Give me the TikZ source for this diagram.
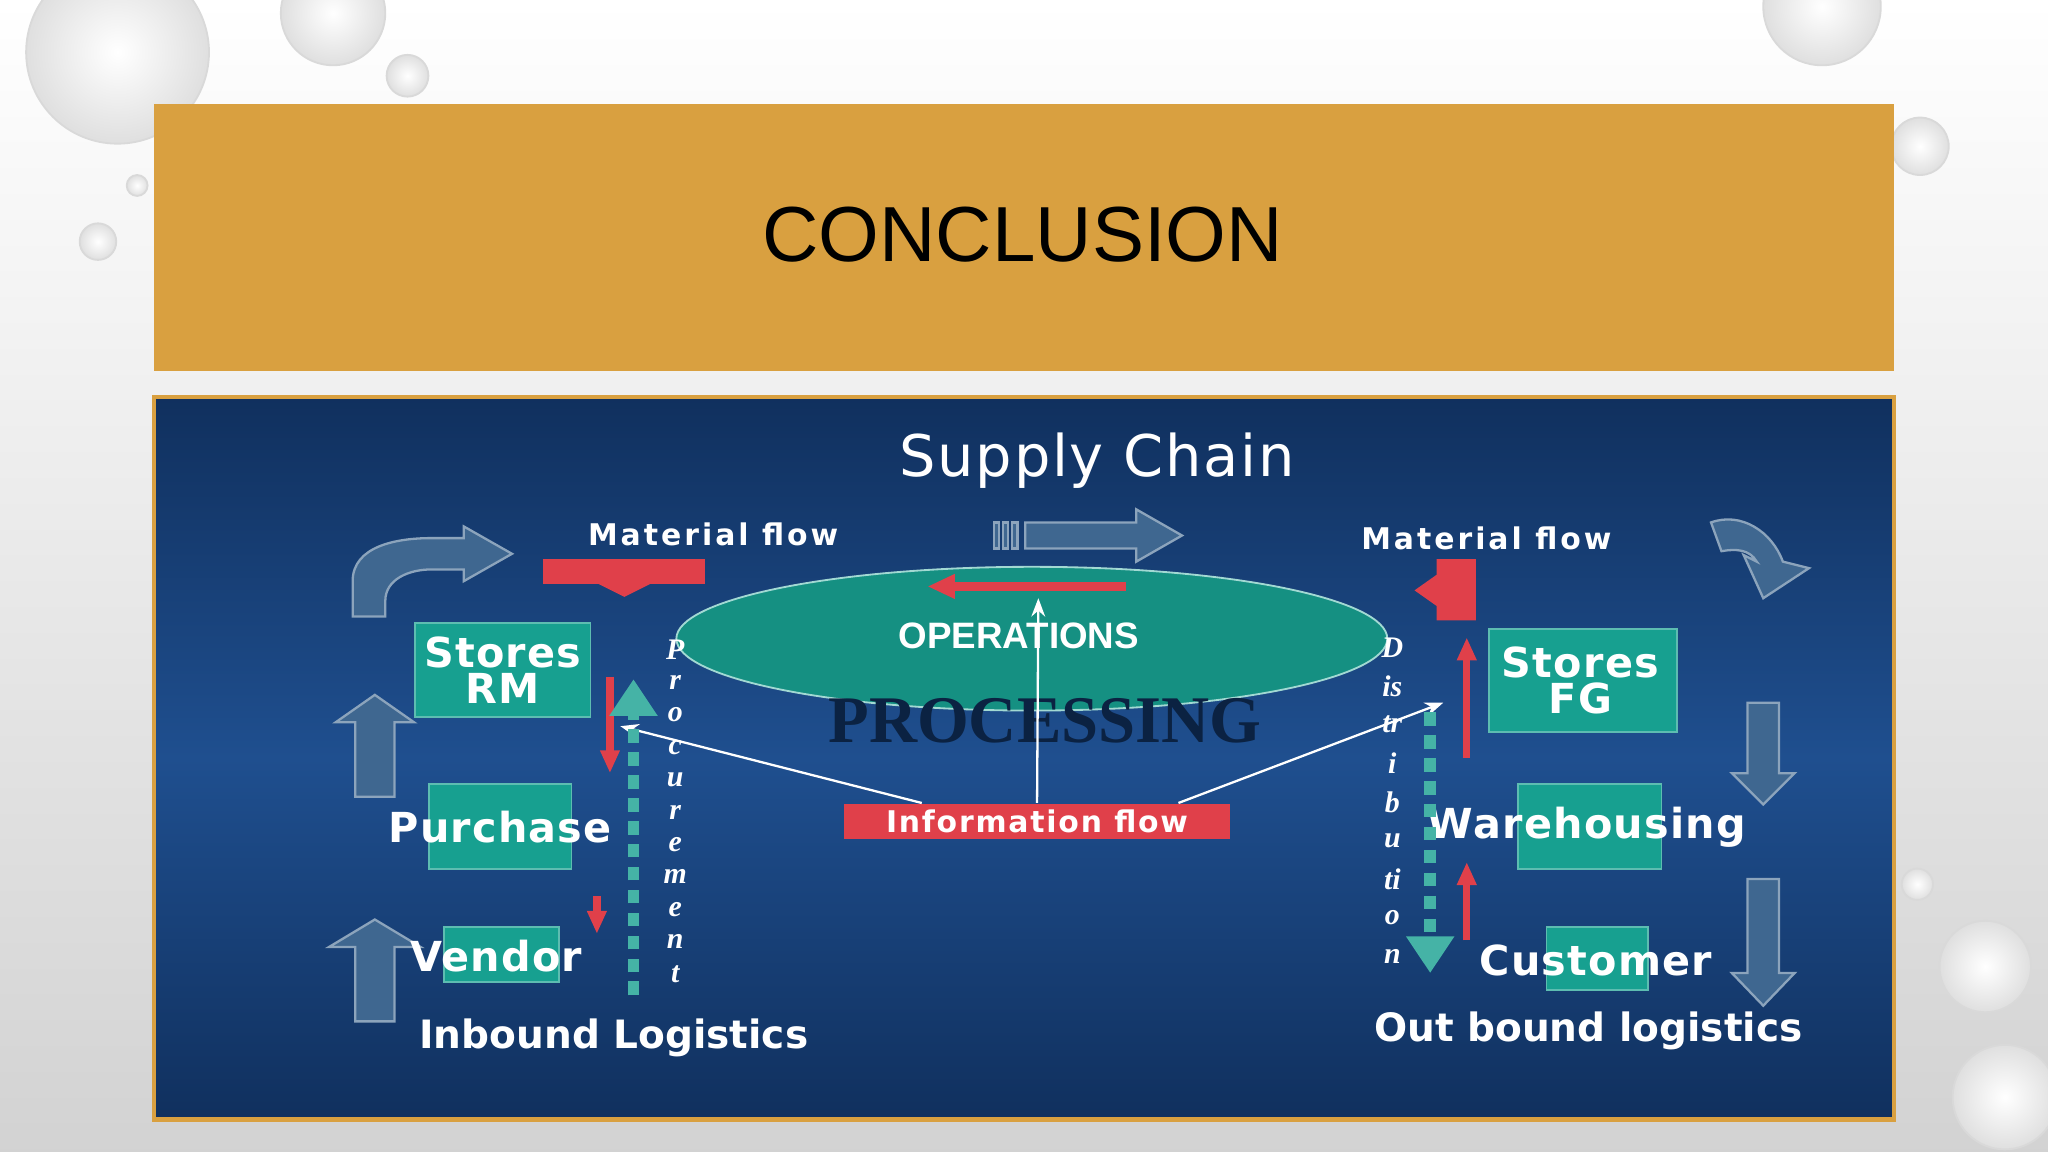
\documentclass[tikz,border=0pt]{standalone}
\usepackage{fontspec}
\setmainfont{Liberation Sans}
\newfontfamily\serifb{Liberation Serif}
\newfontfamily\wide{DejaVu Sans}
\usetikzlibrary{arrows.meta,shapes.arrows,shapes.geometric}
\definecolor{gold}{HTML}{D9A040}
\definecolor{panel}{HTML}{1F4F8F}
\definecolor{panelD}{HTML}{10305E}
\definecolor{tealb}{HTML}{17A090}
\definecolor{redb}{HTML}{E0404A}
\definecolor{blk}{HTML}{3F6790}
\newcommand{\ls}[1]{\addfontfeature{LetterSpace=#1}}
\begin{document}
\begin{tikzpicture}[x=0.01cm,y=-0.01cm,
  box/.style={fill=tealb,draw=tealb!70!white,line width=0.4pt,inner sep=0},
  wt/.style={text=white,font=\wide\bfseries\fontsize{9}{10}\selectfont\ls{3}},
  mf/.style={text=white,font=\wide\bfseries\fontsize{6.5}{7}\selectfont\ls{10}},
  lg/.style={text=white,font=\wide\bfseries\fontsize{8.5}{9}\selectfont\ls{0}},
  vl/.style={text=white,font=\serifb\bfseries\itshape\fontsize{6.5}{7}\selectfont},
  ba/.style={fill=blk,draw=blk!60!white,line width=0.5pt},
  rthin/.style={redb,line width=1.6pt,-{Triangle[length=5pt,width=4pt]}},
  info/.style={white,line width=0.5pt,-{Stealth[length=4pt]}}]
\useasboundingbox (0,0) rectangle (1568,882);
\shade[top color=white,bottom color=gray!35] (0,0) rectangle (1568,882);
% drops
\foreach \x/\y/\r in {90/40/70,255/10/40,312/58/16,75/185/14,105/142/8,1395/5/45,1470/112/22,1520/740/35,1468/677/12,1535/840/40}
  \shade[inner color=white,outer color=gray!25,draw=gray!30] (\x,\y) circle (\r);
% title bar
\fill[gold] (118,80) rectangle (1450,284);
\node[font=\fontsize{17}{20}\selectfont] (title) at (783,180) {CONCLUSION};
% panel
\shade[top color=panelD,bottom color=panelD,middle color=panel,draw=gold,line width=1pt] (118,304) rectangle (1450,857);
\node[text=white,font=\wide\fontsize{12.5}{14}\selectfont\ls{3}] (sc) at (840,353) {Supply Chain};
\node[mf] (mf1) at (546,409) {Material flow};
\node[mf] (mf2) at (1138,412) {Material flow};
% block arrows
\path[ba] (270,472) -- (270,445) to[out=90,in=180] (330,412) -- (355,412) -- (355,403) -- (392,424) -- (355,445) -- (355,436) -- (330,436) to[out=180,in=90] (295,460) -- (295,472) -- cycle;
\path[ba] (272,610) -- (272,553) -- (257,553) -- (287,532) -- (317,553) -- (302,553) -- (302,610) -- cycle;
\path[ba] (272,782) -- (272,725) -- (252,725) -- (287,704) -- (322,725) -- (302,725) -- (302,782) -- cycle;
\path[ba] (1338,538) -- (1362,538) -- (1362,592) -- (1374,592) -- (1350,616) -- (1326,592) -- (1338,592) -- cycle;
\path[ba] (1338,673) -- (1362,673) -- (1362,745) -- (1374,745) -- (1350,770) -- (1326,745) -- (1338,745) -- cycle;
\path[ba] (785,400) -- (870,400) -- (870,390) -- (905,410) -- (870,430) -- (870,420) -- (785,420) -- cycle;
\foreach \x in {761,768,775} \path[ba] (\x,400) rectangle (\x+4,420);
\path[ba] (1310,400) to[out=20,in=110] (1365,430) -- (1385,435) -- (1350,458) -- (1335,425) -- (1345,430) to[out=120,in=10] (1318,422) -- cycle;
% red block arrows
\path[fill=redb] (416,428) rectangle (540,447);
\path[fill=redb] (458,447) -- (498,447) -- (478,457) -- cycle;
\path[fill=redb] (1100,428) rectangle (1130,475) (1100,440) -- (1100,464) -- (1083,452) -- cycle;
% ellipse
\node[draw=white!60!tealb,fill=tealb!90!black,ellipse,minimum width=5.44cm,minimum height=1.1cm,inner sep=0] (ops) at (790,489) {};
\node[text=white,font=\bfseries\fontsize{8}{9}\selectfont] (opt) at (780,487) {OPERATIONS};
\draw[redb,line width=2pt,-{Triangle[length=6pt,width=5pt]}] (862,449) -- (710,449);
\node[text=panelD!70!black,font=\serifb\bfseries\fontsize{14.5}{15}\selectfont] (proc) at (800,552) {PROCESSING};
% boxes
\node[box,minimum width=1.34cm,minimum height=0.72cm] (srm) at (385,513) {};
\node[wt,align=center] at (385,513) {Stores\\[-2pt]RM};
\node[box,minimum width=1.09cm,minimum height=0.65cm] (pur) at (383,633) {};
\node[wt] at (383,633) {Purchase};
\node[box,minimum width=0.88cm,minimum height=0.42cm] (ven) at (384,731) {};
\node[wt] at (380,732) {Vendor};
\node[box,minimum width=1.44cm,minimum height=0.79cm] (sfg) at (1212,521) {};
\node[wt,align=center] at (1210,521) {Stores\\[-2pt]FG};
\node[box,minimum width=1.1cm,minimum height=0.65cm] (war) at (1217,633) {};
\node[wt] at (1215,633) {Warehousing};
\node[box,minimum width=0.78cm,minimum height=0.48cm] (cus) at (1223,734) {};
\node[wt] at (1222,735) {Customer};
% info
\node[fill=redb,text=white,font=\wide\bfseries\fontsize{6.5}{7}\selectfont\ls{6},minimum width=2.95cm,minimum height=0.27cm,inner sep=0] (inf) at (794,629) {Information flow};
\coordinate (pl) at (475,556); \coordinate (dr) at (1105,538); \coordinate (op) at (795,458);
\draw[info] ([xshift=0.6cm]inf.north west) -- (pl);
\draw[info] ([xshift=-0.4cm]inf.north east) -- (dr);
\draw[info] (inf.north) -- (op);
% thin red arrows
\coordinate (a1) at (467,518); \coordinate (a2) at (467,592);
\coordinate (b1) at (457,686); \coordinate (b2) at (457,715);
\coordinate (c1) at (1123,580); \coordinate (c2) at (1123,488);
\coordinate (d1) at (1123,720); \coordinate (d2) at (1123,660);
\draw[rthin] (a1) -- (a2); \draw[rthin] (b1) -- (b2);
\draw[rthin] (c1) -- (c2); \draw[rthin] (d1) -- (d2);
% teal dashed
\coordinate (t1) at (485,762); \coordinate (t2) at (485,520);
\coordinate (u1) at (1095,545); \coordinate (u2) at (1095,745);
\draw[tealb!80!white,line width=2.5pt,dash pattern=on 3pt off 2pt,-{Triangle[length=8pt,width=10pt]}] (t1) -- (t2);
\draw[tealb!80!white,line width=2.5pt,dash pattern=on 3pt off 2pt,-{Triangle[length=8pt,width=10pt]}] (u1) -- (u2);
% vertical words
\foreach \l [count=\i] in {P,r,o,c,u,r,e,m,e,n,t}
  \node[vl] at (517,473+\i*24.8) {\l};
\foreach \l [count=\i] in {D,is,tr,i,b,u,ti,o,n}
  \node[vl] at (1066,466+\i*29.6) {\l};
\node[lg] (inb) at (470,795) {Inbound Logistics};
\node[lg] (outb) at (1216,789) {Out bound logistics};
\end{tikzpicture}
\end{document}
